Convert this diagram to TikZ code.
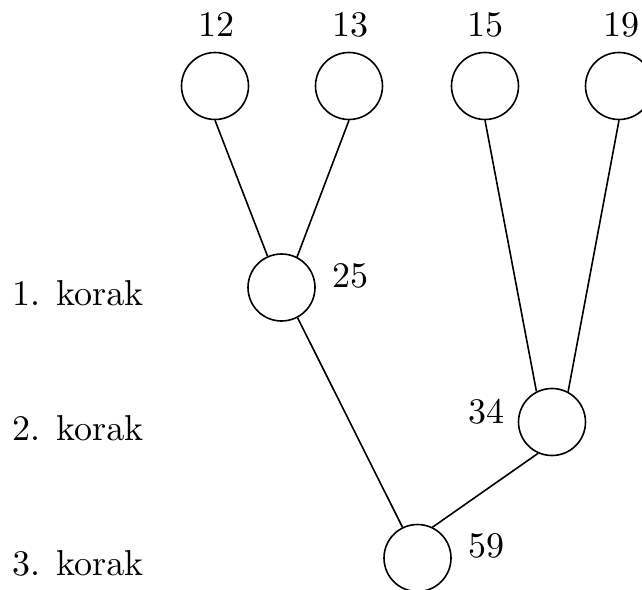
\documentclass[tikz,border=0pt]{standalone}
\font\bigcm=cmr10 at 36pt
\begin{document}
\begin{tikzpicture}[x=1pt,y=-1pt,
  vertex/.style={circle,draw,line width=1.6pt,minimum size=67pt,inner sep=0pt},
  num/.style={inner sep=0pt,anchor=base,font=\bigcm},
  steplabel/.style={inner sep=0pt,anchor=base west,font=\bigcm},
  edge/.style={line width=1.6pt}]
\useasboundingbox (0,0) rectangle (642,589);
\clip (0,0) rectangle (642,589);
% vertices
\node[vertex] (n12) at (215,86) {};
\node[vertex] (n13) at (349,86) {};
\node[vertex] (n15) at (485,86) {};
\node[vertex] (n19) at (619,86) {};
\node[vertex] (n25) at (281.5,287.5) {};
\node[vertex] (n34) at (552,422) {};
\node[vertex] (n59) at (417.5,558) {};
% number labels
\node[num] (l12) at (216,36) {12};
\node[num] (l13) at (350,36) {13};
\node[num] (l15) at (485,36) {15};
\node[num] (l19) at (621,36) {19};
\node[num] (l25) at (350,287) {25};
\node[num] (l34) at (486,423) {34};
\node[num] (l59) at (486,557) {59};
% step labels
\node[steplabel] (k1) at (12,305) {1. korak};
\node[steplabel] (k2) at (12,440) {2. korak};
\node[steplabel] (k3) at (12,575) {3. korak};
% edges
\draw[edge] (n12.south) -- (n25.114);
\draw[edge] (n13.south) -- (n25.63);
\draw[edge] (n15.south) -- (n34.117);
\draw[edge] (n19.south) -- (n34.62);
\draw[edge] (n25.-62) -- (n59.116);
\draw[edge] (n34.246) -- (n59.64);
\end{tikzpicture}
\end{document}
